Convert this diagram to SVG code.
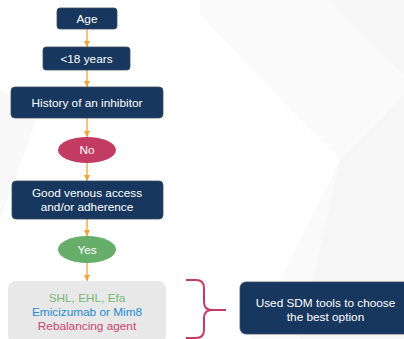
<svg xmlns="http://www.w3.org/2000/svg" width="404" height="339" viewBox="0 0 404 339">
<defs>
<style>
.box{fill:#17375E;stroke:#3c4d60;stroke-width:0.8}
.t{font-family:"Liberation Sans",Arial,sans-serif;font-size:11.8px;text-anchor:middle;fill:#ffffff}
.c{stroke:#F2A23A;stroke-width:1.3;fill:none}
</style>
<marker id="ah" viewBox="0 0 10 10" refX="10" refY="5" markerWidth="6" markerHeight="6" markerUnits="userSpaceOnUse" orient="auto">
<path d="M0,0 L10,5 L0,10 z" fill="#F2A23A"/>
</marker>
</defs>
<rect width="404" height="339" fill="#ffffff"/>
<g id="background">
<polygon points="200,0 404,0 404,339 250,339 340,160 200,15" fill="#FAFAFA"/>
<polygon points="330,0 404,0 404,75" fill="#F7F7F7"/>
<polygon points="340,160 404,95 404,339 300,339" fill="#F6F6F6"/>
<polygon points="0,90 40,110 0,220" fill="#F9F9F9"/>
</g>
<g id="connectors">
<line class="c" x1="87" y1="29" x2="87" y2="47" marker-end="url(#ah)"/>
<line class="c" x1="87" y1="70" x2="87" y2="87" marker-end="url(#ah)"/>
<line class="c" x1="87" y1="118" x2="87" y2="137" marker-end="url(#ah)"/>
<line class="c" x1="87" y1="163" x2="87" y2="181" marker-end="url(#ah)"/>
<line class="c" x1="87" y1="219" x2="87" y2="236" marker-end="url(#ah)"/>
<line class="c" x1="87" y1="263" x2="87" y2="281" marker-end="url(#ah)"/>
</g>
<g id="age">
<rect class="box" x="57" y="8" width="60" height="21" rx="3"/>
<text class="t" x="87" y="22.6">Age</text>
</g>
<g id="under18">
<rect class="box" x="43" y="47" width="87" height="23" rx="3"/>
<text class="t" x="86.5" y="62.6">&lt;18 years</text>
</g>
<g id="inhibitor">
<rect class="box" x="11" y="87" width="152" height="31" rx="4"/>
<text class="t" x="87" y="106.6">History of an inhibitor</text>
</g>
<g id="no">
<ellipse cx="87" cy="150" rx="29" ry="13" fill="#C23B62"/>
<text class="t" x="87" y="154.2">No</text>
</g>
<g id="venous">
<rect class="box" x="12" y="181" width="151" height="38" rx="4"/>
<text class="t" x="87" y="196.5">Good venous access</text>
<text class="t" x="87" y="211">and/or adherence</text>
</g>
<g id="yes">
<ellipse cx="87" cy="249.5" rx="29" ry="13.5" fill="#67AE6B"/>
<text class="t" x="87" y="253.7">Yes</text>
</g>
<g id="options">
<rect x="8" y="281" width="158" height="62" rx="8" fill="#E8E8E8"/>
<text class="t" x="87" y="302.3" style="fill:#76B87A">SHL, EHL, Efa</text>
<text class="t" x="87" y="316" style="fill:#1D8BD0">Emicizumab or Mim8</text>
<text class="t" x="87" y="330" style="fill:#C8446C">Rebalancing agent</text>
</g>
<g id="brace">
<path d="M186,280 L196,280 Q204,280 204,288 L204,302 Q204,310 212,310 L226,310 M212,310 Q204,310 204,318 L204,330 Q204,338 196,338 L186,338" fill="none" stroke="#C23B62" stroke-width="2"/>
</g>
<g id="sdm">
<rect class="box" x="240" y="282" width="172" height="52" rx="6"/>
<text class="t" x="325.5" y="307">Used SDM tools to choose</text>
<text class="t" x="325.5" y="320.5">the best option</text>
</g>
</svg>
